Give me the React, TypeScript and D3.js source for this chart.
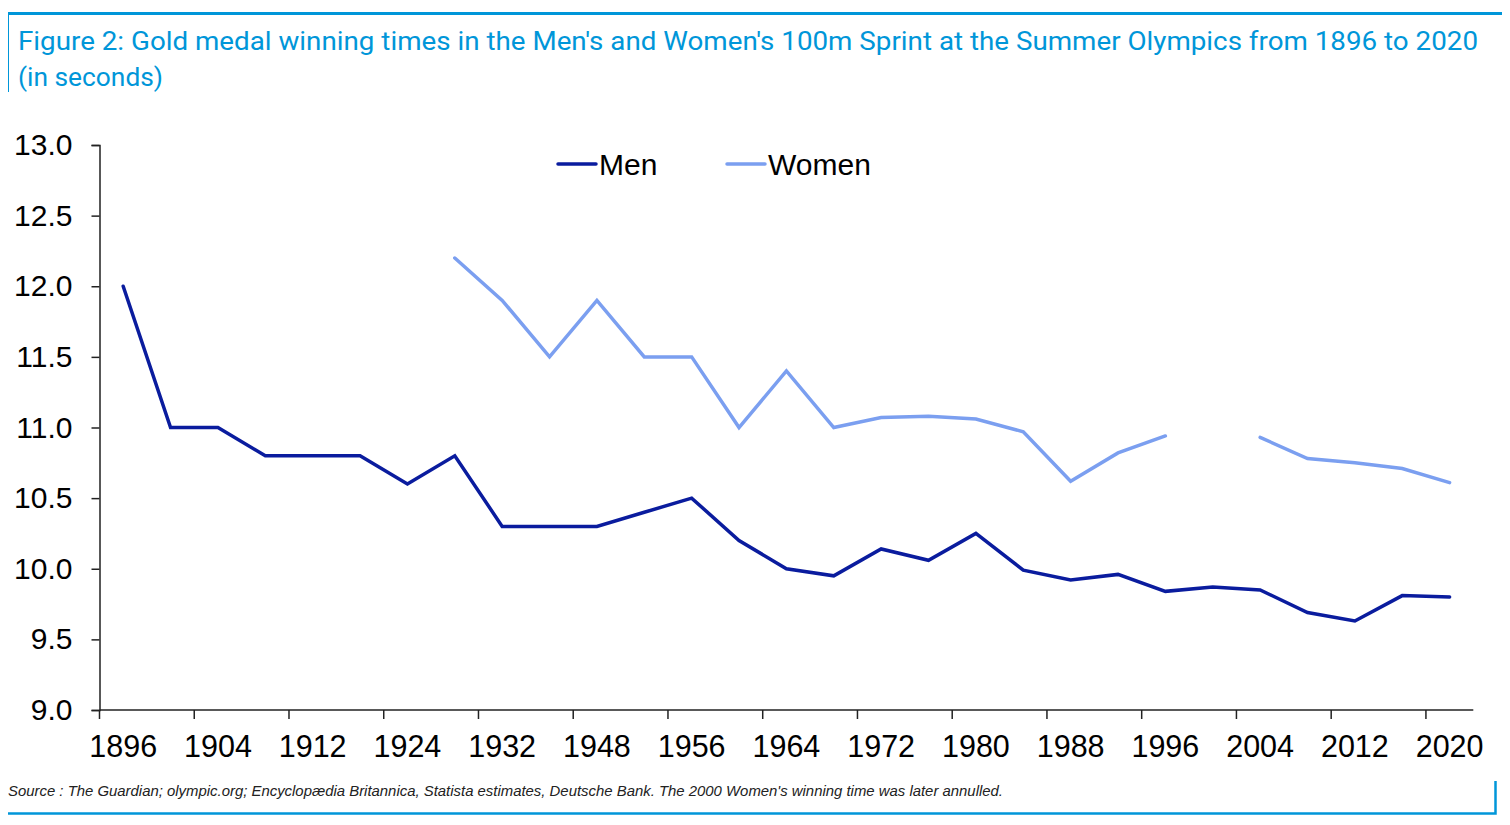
import React, { useEffect, useRef } from 'react';
import * as d3 from 'd3';

const years = [
  '1896', '1900', '1904', '1908', '1912', '1920', '1924', '1928', '1932', '1936',
  '1948', '1952', '1956', '1960', '1964', '1968', '1972', '1976', '1980', '1984',
  '1988', '1992', '1996', '2000', '2004', '2008', '2012', '2016', '2020',
];

const men: (number | null)[] = [
  12.0, 11.0, 11.0, 10.8, 10.8, 10.8, 10.6, 10.8, 10.3, 10.3,
  10.3, 10.4, 10.5, 10.2, 10.0, 9.95, 10.14, 10.06, 10.25, 9.99,
  9.92, 9.96, 9.84, 9.87, 9.85, 9.69, 9.63, 9.81, 9.80,
];

// 2000 result annulled -> gap
const women: (number | null)[] = [
  null, null, null, null, null, null, null, 12.2, 11.9, 11.5,
  11.9, 11.5, 11.5, 11.0, 11.4, 11.0, 11.07, 11.08, 11.06, 10.97,
  10.62, 10.82, 10.94, null, 10.93, 10.78, 10.75, 10.71, 10.61,
];

const yTicks = [9.0, 9.5, 10.0, 10.5, 11.0, 11.5, 12.0, 12.5, 13.0];

const MEN_COLOR = '#0a1c9e';
const WOMEN_COLOR = '#7b9ff0';
const BLUE = '#0096d9';
const FONT = 'Liberation Sans, Arial, sans-serif';

export default function App() {
  const svgRef = useRef<SVGSVGElement>(null);

  useEffect(() => {
    if (!svgRef.current) return;
    const width = 1510;
    const height = 825;
    const left = 99.5;
    const right = 1473.3;
    const top = 145;
    const bottom = 710;

    const svg = d3.select(svgRef.current);
    svg.selectAll('*').remove();
    svg.attr('width', width).attr('height', height);

    // frame
    svg.append('path')
      .attr('d', `M7.5,92 V13.5 H1510`)
      .attr('fill', 'none').attr('stroke', BLUE).attr('stroke-width', 3);
    svg.append('path')
      .attr('d', `M8,813.5 H1495.5 V781`)
      .attr('fill', 'none').attr('stroke', BLUE).attr('stroke-width', 2.5);

    // title
    svg.append('text')
      .attr('x', 18).attr('y', 50)
      .attr('fill', BLUE)
      .style('font-family', 'Roboto, sans-serif')
      .style('font-size', '25px')
      .attr('textLength', 1460).attr('lengthAdjust', 'spacingAndGlyphs')
      .text("Figure 2: Gold medal winning times in the Men's and Women's 100m Sprint at the Summer Olympics from 1896 to 2020");
    svg.append('text')
      .attr('x', 18).attr('y', 86)
      .attr('fill', BLUE)
      .style('font-family', 'Roboto, sans-serif')
      .style('font-size', '25px')
      .attr('textLength', 145).attr('lengthAdjust', 'spacingAndGlyphs')
      .text('(in seconds)');

    const x = d3.scaleBand<string>().domain(years).range([left, right]);
    const y = d3.scaleLinear().domain([9, 13]).range([bottom, top]);

    // y axis
    const yAxis = svg.append('g').attr('transform', `translate(${left},0)`)
      .call(d3.axisLeft(y).tickValues(yTicks).tickFormat(d3.format('.1f')).tickSize(8).tickPadding(19));
    yAxis.select('.domain').attr('stroke', '#222').attr('stroke-width', 1.5);
    yAxis.selectAll('line').attr('stroke', '#222').attr('stroke-width', 1.5);
    yAxis.selectAll('text')
      .attr('fill', '#000')
      .style('font-family', FONT)
      .style('font-size', '30px');

    // x axis: ticks on band boundaries every 2nd category, labels at band centres
    const xAxis = svg.append('g').attr('transform', `translate(0,${bottom})`);
    xAxis.append('line')
      .attr('x1', left).attr('x2', right)
      .attr('stroke', '#222').attr('stroke-width', 1.5);
    const shown = years.filter((_, i) => i % 2 === 0);
    xAxis.selectAll('line.tick')
      .data(shown)
      .enter()
      .append('line')
      .attr('class', 'tick')
      .attr('x1', d => x(d)!).attr('x2', d => x(d)!)
      .attr('y1', 0).attr('y2', 9)
      .attr('stroke', '#222').attr('stroke-width', 1.5);
    xAxis.selectAll('text')
      .data(shown)
      .enter()
      .append('text')
      .attr('x', d => x(d)! + x.bandwidth() / 2)
      .attr('y', 47)
      .attr('text-anchor', 'middle')
      .style('font-family', FONT)
      .style('font-size', '30.5px')
      .text(d => d);

    const line = d3.line<number | null>()
      .defined(d => d !== null)
      .x((_, i) => x(years[i])! + x.bandwidth() / 2)
      .y(d => y(d as number));

    svg.append('path')
      .datum(women)
      .attr('d', line)
      .attr('fill', 'none')
      .attr('stroke', WOMEN_COLOR)
      .attr('stroke-width', 3.5)
      .attr('stroke-linecap', 'round')
      .attr('stroke-linejoin', 'miter');

    svg.append('path')
      .datum(men)
      .attr('d', line)
      .attr('fill', 'none')
      .attr('stroke', MEN_COLOR)
      .attr('stroke-width', 3.5)
      .attr('stroke-linecap', 'round')
      .attr('stroke-linejoin', 'miter');

    // legend
    const legend = [
      { name: 'Men', color: MEN_COLOR, x0: 558 },
      { name: 'Women', color: WOMEN_COLOR, x0: 727 },
    ];
    const lg = svg.selectAll('g.legend').data(legend).enter().append('g').attr('class', 'legend');
    lg.append('line')
      .attr('x1', d => d.x0).attr('x2', d => d.x0 + 38)
      .attr('y1', 164).attr('y2', 164)
      .attr('stroke', d => d.color)
      .attr('stroke-width', 3.5)
      .attr('stroke-linecap', 'round');
    lg.append('text')
      .attr('x', d => d.x0 + 41)
      .attr('y', 175)
      .style('font-family', FONT)
      .style('font-size', '30px')
      .text(d => d.name);

    // source
    svg.append('text')
      .attr('x', 8).attr('y', 796)
      .attr('fill', '#222')
      .style('font-family', FONT)
      .style('font-style', 'italic')
      .style('font-size', '14.5px')
      .attr('textLength', 995).attr('lengthAdjust', 'spacingAndGlyphs')
      .text("Source : The Guardian; olympic.org; Encyclopædia Britannica, Statista estimates, Deutsche Bank. The 2000 Women's winning time was later annulled.");
  }, []);

  return (
    <div style={{ margin: -8, background: '#fff' }}>
      <svg ref={svgRef} style={{ display: 'block' }} />
    </div>
  );
}
